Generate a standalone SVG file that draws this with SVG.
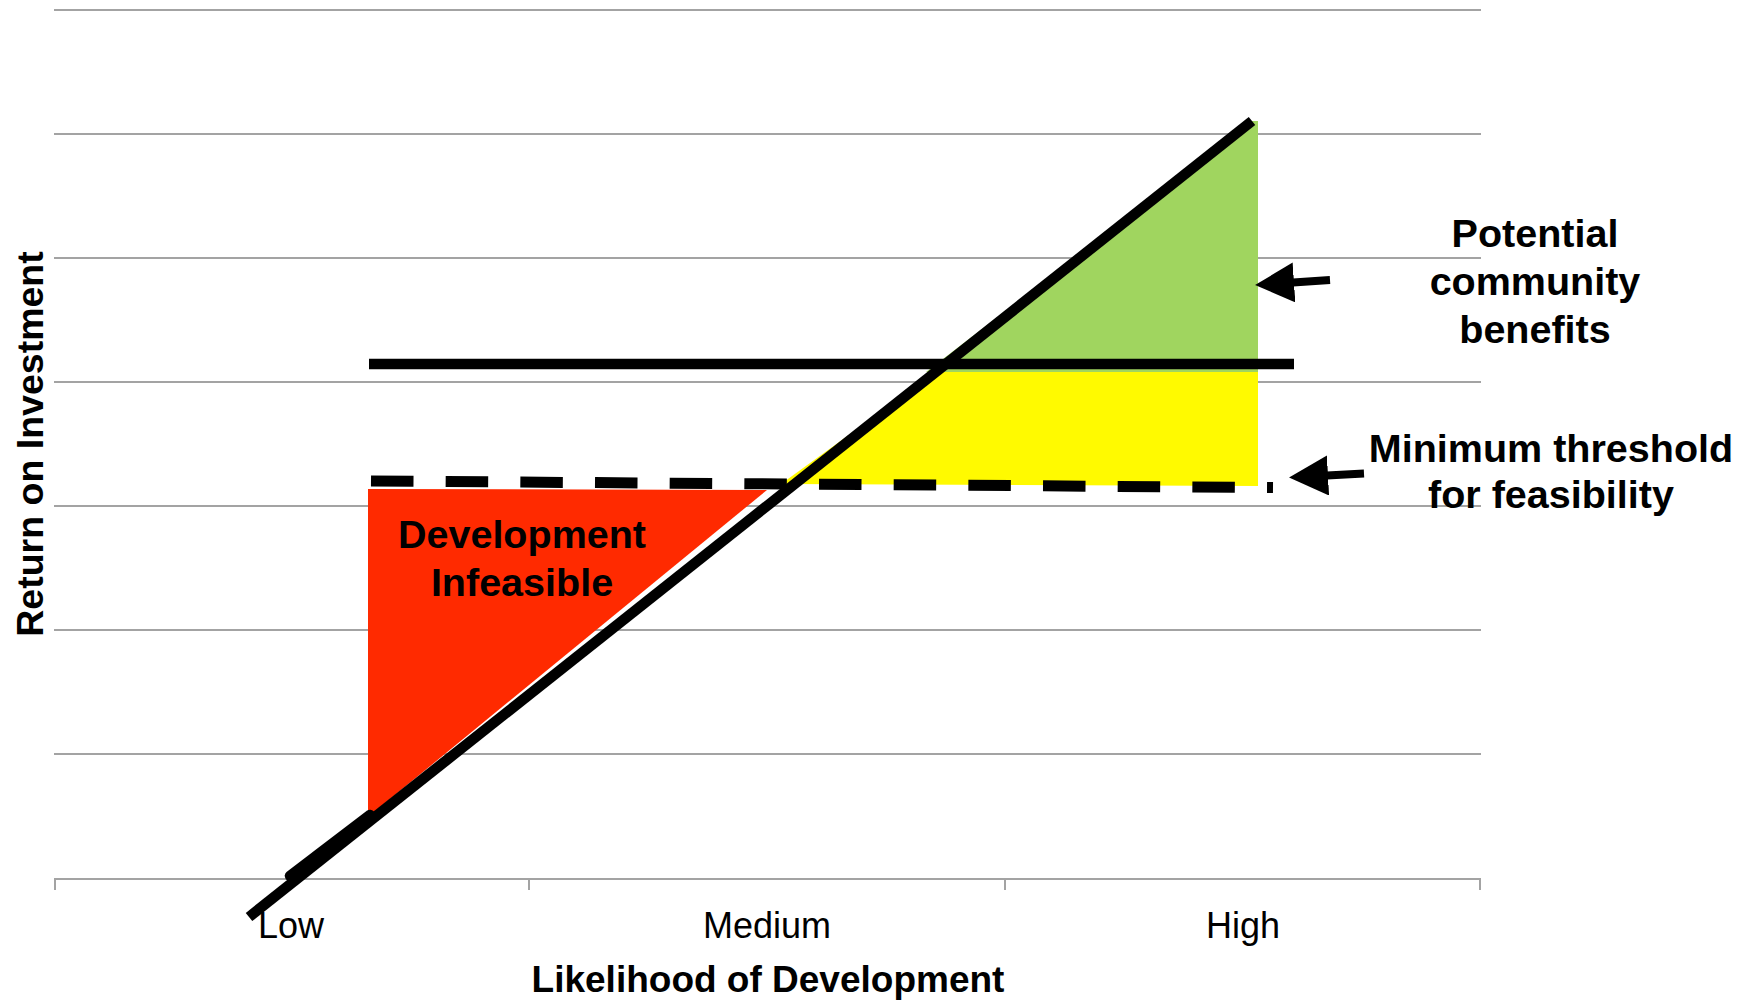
<svg xmlns="http://www.w3.org/2000/svg" width="1758" height="1002" viewBox="0 0 1758 1002">
  <defs>
    <style>
      .grid { stroke: #a3a3a3; stroke-width: 2; fill: none; }
      .heavy { stroke: #000; stroke-width: 10.5; fill: none; }
      .dash { stroke: #000; stroke-width: 11; fill: none; stroke-dasharray: 42.5 32.17; }
      .pointer { stroke: #000; stroke-width: 8; fill: none; marker-end: url(#head); }
      .label { font-family: "Liberation Sans", Arial, sans-serif; font-weight: bold; fill: #000; text-anchor: middle; }
      .tick { font-family: "Liberation Sans", Arial, sans-serif; font-size: 36px; fill: #000; text-anchor: middle; }
    </style>
    <marker id="head" markerUnits="userSpaceOnUse" viewBox="0 0 40 40" refX="1" refY="20" markerWidth="40" markerHeight="40" orient="auto">
      <path d="M0,0 L39,20 L0,40 Z" fill="#000"/>
    </marker>
  </defs>

  <rect width="1758" height="1002" fill="#fff"/>

  <!-- horizontal gridlines and category axis -->
  <g id="grid">
    <line class="grid" x1="54" y1="10" x2="1481" y2="10"/>
    <line class="grid" x1="54" y1="134" x2="1481" y2="134"/>
    <line class="grid" x1="54" y1="258" x2="1481" y2="258"/>
    <line class="grid" x1="54" y1="382" x2="1481" y2="382"/>
    <line class="grid" x1="54" y1="506" x2="1481" y2="506"/>
    <line class="grid" x1="54" y1="630" x2="1481" y2="630"/>
    <line class="grid" x1="54" y1="754" x2="1481" y2="754"/>
    <line class="grid" x1="54" y1="879" x2="1481" y2="879"/>
    <line class="grid" x1="55" y1="879" x2="55" y2="890"/>
    <line class="grid" x1="529" y1="879" x2="529" y2="890"/>
    <line class="grid" x1="1005" y1="879" x2="1005" y2="890"/>
    <line class="grid" x1="1480" y1="879" x2="1480" y2="890"/>
  </g>

  <!-- shaded regions -->
  <g id="region-infeasible">
    <polygon points="368,489 767,490 368,817" fill="#ff2a00"/>
  </g>
  <g id="region-feasible">
    <polygon points="781,484 940,369 1258,369 1258,486" fill="#fffa00"/>
  </g>
  <g id="region-benefits">
    <polygon points="926,372 1252,121 1258,121 1258,372" fill="#a0d55f"/>
  </g>

  <!-- reference lines -->
  <g id="lines">
    <line class="dash" x1="371" y1="481" x2="1273" y2="487.5"/>
    <line class="heavy" x1="369" y1="364" x2="1294" y2="364"/>
    <line class="heavy" x1="249" y1="917" x2="1252" y2="121"/>
    <line class="heavy" x1="290" y1="876" x2="370" y2="815" stroke-linecap="round"/>
  </g>

  <!-- pointer arrows -->
  <g id="connectors">
    <line class="pointer" x1="1330" y1="280" x2="1293" y2="282.5"/>
    <line class="pointer" x1="1364" y1="473.5" x2="1327" y2="475.5"/>
  </g>

  <!-- annotations -->
  <g id="label-infeasible">
    <text class="label" font-size="39.5" x="522" y="548">Development</text>
    <text class="label" font-size="39.5" x="522" y="596">Infeasible</text>
  </g>
  <g id="label-benefits">
    <text class="label" font-size="39.5" x="1535" y="247">Potential</text>
    <text class="label" font-size="39.5" x="1535" y="295">community</text>
    <text class="label" font-size="39.5" x="1535" y="343">benefits</text>
  </g>
  <g id="label-threshold">
    <text class="label" font-size="39.5" x="1551" y="462">Minimum threshold</text>
    <text class="label" font-size="39.5" x="1551" y="508">for feasibility</text>
  </g>

  <!-- axis labels -->
  <g id="axis-labels">
    <text class="tick" x="291" y="938">Low</text>
    <text class="tick" x="767" y="938">Medium</text>
    <text class="tick" x="1243" y="938">High</text>
    <text class="label" font-size="37" x="768" y="992">Likelihood of Development</text>
    <text class="label" font-size="37.5" transform="translate(43,444) rotate(-90)">Return on Investment</text>
  </g>
</svg>
